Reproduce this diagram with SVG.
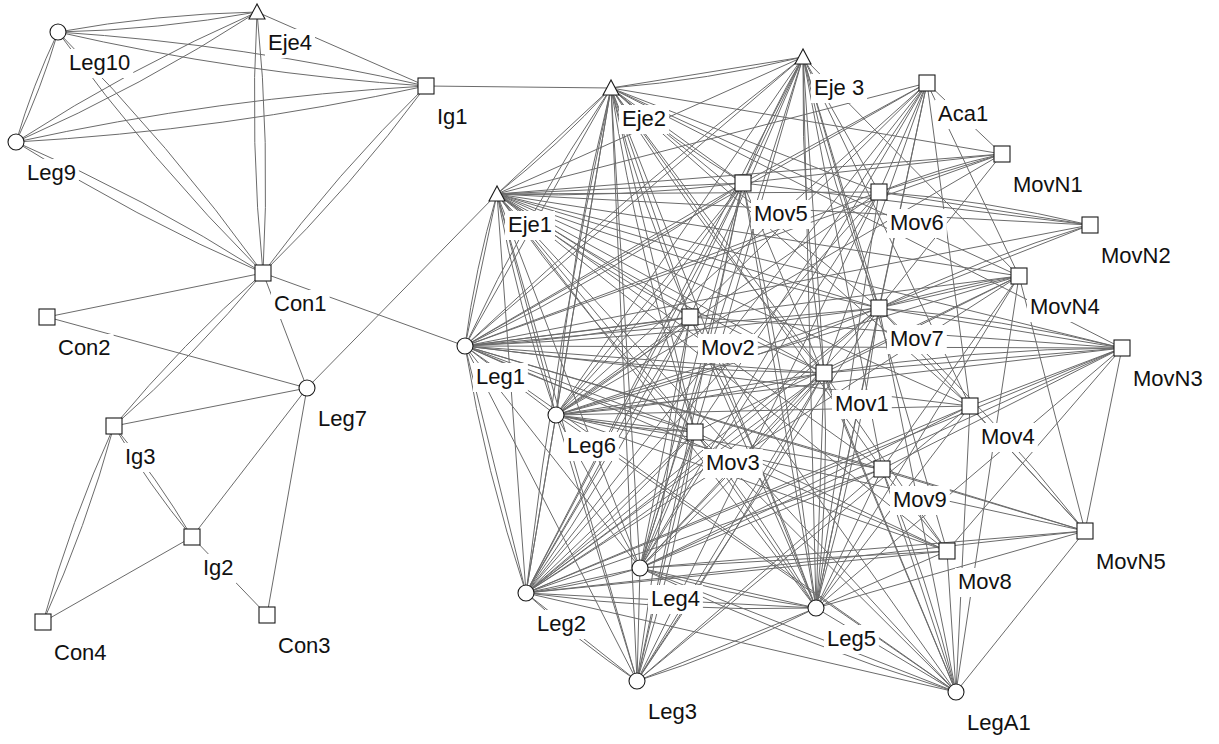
<svg xmlns="http://www.w3.org/2000/svg" width="1219" height="744" viewBox="0 0 1219 744">
<style>
.e{fill:none;stroke:#6b6b6b;stroke-width:1}
.n{fill:#fff;stroke:#1a1a1a;stroke-width:1.1}
.lb{fill:#fff}
text{font-family:"Liberation Sans",Arial,Helvetica,sans-serif;font-size:22px;fill:#111}
</style>
<rect width="1219" height="744" fill="#fff"/>
<g id="edges" class="e">
<path d="M58 32Q158.3 30 257 12"/><path d="M58 32Q156.7 14 257 12"/>
<path d="M58 32Q239.8 73.7 426 86"/><path d="M58 32Q244.2 44.3 426 86"/>
<path d="M58 32Q32.6 85.3 16 142"/><path d="M58 32Q41.4 88.7 16 142"/>
<path d="M58 32Q150.9 160.7 263 273"/><path d="M58 32Q170.1 144.3 263 273"/>
<path d="M16 142Q141.7 86.6 257 12"/><path d="M16 142Q131.3 67.4 257 12"/>
<path d="M16 142Q223.2 130.4 426 86"/><path d="M16 142Q218.8 97.6 426 86"/>
<path d="M16 142Q134.3 217.4 263 273"/><path d="M16 142Q144.7 197.6 263 273"/>
<path d="M257 12Q249.6 142.7 263 273"/><path d="M257 12Q270.4 142.3 263 273"/>
<path d="M426 86Q337 173 263 273"/><path d="M426 86Q352 186 263 273"/>
<path d="M263 273Q182.4 343.5 114 426"/><path d="M263 273Q194.6 355.5 114 426"/>
<path d="M114 426Q148.6 484.6 192 537"/><path d="M114 426Q157.4 478.4 192 537"/>
<path d="M114 426Q70.7 521.2 43 622"/><path d="M114 426Q86.3 526.8 43 622"/>
<path d="M257 12L426 86"/><path d="M426 86L611 88"/><path d="M263 273L47 317"/><path d="M263 273L465 346"/>
<path d="M263 273L307 388"/><path d="M47 317L307 388"/><path d="M307 388L114 426"/><path d="M307 388L192 537"/>
<path d="M307 388L267 615"/><path d="M307 388L497 194"/><path d="M192 537L43 622"/><path d="M192 537L267 615"/>
<path d="M497 194L611 88"/><path d="M497 194L803 57"/><path d="M497 194L743 183"/><path d="M497 194L879 192"/>
<path d="M497 194L1002 154"/><path d="M497 194L1090 225"/><path d="M497 194L879 308"/><path d="M497 194L690 317"/>
<path d="M497 194L824 373"/><path d="M497 194L970 406"/><path d="M497 194L695 432"/><path d="M497 194L882 469"/>
<path d="M497 194L1019 276"/><path d="M497 194L465 346"/><path d="M497 194L556 415"/><path d="M497 194L526 593"/>
<path d="M497 194L640 568"/><path d="M497 194L637 681"/><path d="M497 194L816 608"/><path d="M497 194L947 551"/>
<path d="M497 194L927 83"/><path d="M497 194L1122 348"/><path d="M497 194L956 692"/>
<path d="M611 88L803 57"/><path d="M611 88L743 183"/><path d="M611 88L879 192"/><path d="M611 88L690 317"/>
<path d="M611 88L824 373"/><path d="M611 88L879 308"/><path d="M611 88L695 432"/><path d="M611 88L970 406"/>
<path d="M611 88L882 469"/><path d="M611 88L465 346"/><path d="M611 88L556 415"/><path d="M611 88L526 593"/>
<path d="M611 88L640 568"/><path d="M611 88L637 681"/><path d="M611 88L816 608"/><path d="M611 88L1002 154"/>
<path d="M611 88L1019 276"/><path d="M611 88L1122 348"/>
<path d="M803 57L743 183"/><path d="M803 57L879 192"/><path d="M803 57L690 317"/><path d="M803 57L879 308"/>
<path d="M803 57L824 373"/><path d="M803 57L970 406"/><path d="M803 57L695 432"/><path d="M803 57L882 469"/>
<path d="M803 57L465 346"/><path d="M803 57L556 415"/><path d="M803 57L526 593"/><path d="M803 57L640 568"/>
<path d="M803 57L816 608"/><path d="M803 57L1019 276"/><path d="M803 57L947 551"/>
<path d="M465 346L743 183"/><path d="M465 346L690 317"/><path d="M465 346L879 308"/><path d="M465 346L824 373"/>
<path d="M465 346L695 432"/><path d="M465 346L970 406"/><path d="M465 346L879 192"/><path d="M465 346L882 469"/>
<path d="M465 346L927 83"/><path d="M465 346L1122 348"/><path d="M465 346L1019 276"/><path d="M465 346L947 551"/>
<path d="M465 346L526 593"/><path d="M465 346L640 568"/><path d="M465 346L637 681"/><path d="M465 346L556 415"/>
<path d="M465 346L1085 531"/><path d="M465 346L1090 225"/><path d="M465 346L1002 154"/><path d="M465 346L956 692"/>
<path d="M556 415L743 183"/><path d="M556 415L690 317"/><path d="M556 415L879 308"/><path d="M556 415L824 373"/>
<path d="M556 415L695 432"/><path d="M556 415L970 406"/><path d="M556 415L882 469"/><path d="M556 415L879 192"/>
<path d="M556 415L1122 348"/><path d="M556 415L1019 276"/><path d="M556 415L1085 531"/><path d="M556 415L947 551"/>
<path d="M556 415L526 593"/><path d="M556 415L637 681"/><path d="M556 415L640 568"/><path d="M556 415L927 83"/>
<path d="M556 415L1002 154"/><path d="M556 415L956 692"/>
<path d="M526 593L743 183"/><path d="M526 593L690 317"/><path d="M526 593L879 308"/><path d="M526 593L824 373"/>
<path d="M526 593L695 432"/><path d="M526 593L970 406"/><path d="M526 593L882 469"/><path d="M526 593L879 192"/>
<path d="M526 593L927 83"/><path d="M526 593L1122 348"/><path d="M526 593L947 551"/><path d="M526 593L640 568"/>
<path d="M526 593L637 681"/><path d="M526 593L816 608"/><path d="M526 593L956 692"/><path d="M526 593L1019 276"/>
<path d="M526 593L1085 531"/>
<path d="M640 568L743 183"/><path d="M640 568L690 317"/><path d="M640 568L879 308"/><path d="M640 568L824 373"/>
<path d="M640 568L695 432"/><path d="M640 568L970 406"/><path d="M640 568L882 469"/><path d="M640 568L879 192"/>
<path d="M640 568L947 551"/><path d="M640 568L816 608"/><path d="M640 568L956 692"/><path d="M640 568L637 681"/>
<path d="M640 568L927 83"/><path d="M640 568L1122 348"/><path d="M640 568L1085 531"/>
<path d="M637 681L743 183"/><path d="M637 681L690 317"/><path d="M637 681L879 308"/><path d="M637 681L824 373"/>
<path d="M637 681L695 432"/><path d="M637 681L882 469"/><path d="M637 681L816 608"/><path d="M637 681L970 406"/>
<path d="M637 681L879 192"/>
<path d="M816 608L743 183"/><path d="M816 608L690 317"/><path d="M816 608L879 308"/><path d="M816 608L824 373"/>
<path d="M816 608L695 432"/><path d="M816 608L970 406"/><path d="M816 608L882 469"/><path d="M816 608L879 192"/>
<path d="M816 608L927 83"/><path d="M816 608L1122 348"/><path d="M816 608L1019 276"/><path d="M816 608L956 692"/>
<path d="M816 608L947 551"/><path d="M816 608L1085 531"/>
<path d="M956 692L947 551"/><path d="M956 692L1085 531"/><path d="M956 692L1019 276"/><path d="M956 692L882 469"/>
<path d="M956 692L824 373"/><path d="M956 692L879 308"/><path d="M956 692L695 432"/><path d="M956 692L690 317"/>
<path d="M956 692L970 406"/><path d="M956 692L743 183"/>
<path d="M1002 154L879 192"/><path d="M1002 154L743 183"/><path d="M1002 154L927 83"/><path d="M1002 154L879 308"/>
<path d="M1090 225L879 192"/><path d="M1090 225L879 308"/><path d="M1090 225L743 183"/>
<path d="M927 83L743 183"/><path d="M927 83L879 192"/><path d="M927 83L879 308"/><path d="M927 83L824 373"/>
<path d="M927 83L690 317"/><path d="M927 83L970 406"/><path d="M927 83L1019 276"/><path d="M927 83L695 432"/>
<path d="M1019 276L879 308"/><path d="M1019 276L824 373"/><path d="M1019 276L882 469"/><path d="M1019 276L1085 531"/>
<path d="M1019 276L695 432"/>
<path d="M1122 348L879 308"/><path d="M1122 348L824 373"/><path d="M1122 348L970 406"/><path d="M1122 348L882 469"/>
<path d="M1122 348L1085 531"/><path d="M1122 348L947 551"/><path d="M1122 348L690 317"/>
<path d="M1085 531L879 308"/><path d="M1085 531L882 469"/><path d="M1085 531L970 406"/>
<path d="M947 551L882 469"/><path d="M947 551L824 373"/><path d="M947 551L695 432"/>
<path d="M497 194Q558.2 145.6 611 88"/><path d="M497 194Q620.4 198.3 743 183"/><path d="M497 194Q683.4 266.3 879 308"/>
<path d="M497 194Q588.6 263.2 690 317"/><path d="M497 194Q653.3 296.6 824 373"/><path d="M497 194Q586.5 320.9 695 432"/>
<path d="M497 194Q474.9 268.7 465 346"/><path d="M497 194Q517.7 306.9 556 415"/>
<path d="M611 88Q708.2 80.2 803 57"/><path d="M611 88Q673.2 140.8 743 183"/><path d="M611 88Q641.3 205.7 690 317"/>
<path d="M611 88Q706.1 239 824 373"/><path d="M611 88Q639.2 263.4 695 432"/><path d="M611 88Q527.7 211.2 465 346"/>
<path d="M611 88Q570.4 249.3 556 415"/><path d="M611 88Q555.9 338.4 526 593"/>
<path d="M803 57Q768 117.6 743 183"/><path d="M803 57Q831 185.5 879 308"/><path d="M803 57Q800.9 215.8 824 373"/>
<path d="M803 57Q626.8 193 465 346"/>
<path d="M465 346Q610.5 275.6 743 183"/><path d="M465 346Q578.7 340.5 690 317"/><path d="M465 346Q673 337.4 879 308"/>
<path d="M465 346Q643.7 370.3 824 373"/><path d="M465 346Q576.6 398.2 695 432"/><path d="M465 346Q485.6 471.9 526 593"/>
<path d="M556 415Q658.8 306.5 743 183"/><path d="M556 415Q626.9 371.4 690 317"/><path d="M556 415Q721.8 374.4 879 308"/>
<path d="M556 415Q691.7 404.7 824 373"/><path d="M556 415Q624.8 429.1 695 432"/>
<path d="M526 593Q644.8 393.4 743 183"/><path d="M526 593Q619 461.6 690 317"/><path d="M526 593Q709.6 459.3 879 308"/>
<path d="M526 593Q682.7 493.4 824 373"/><path d="M526 593Q616.9 519.3 695 432"/><path d="M526 593Q584 585.1 640 568"/>
<path d="M526 593Q578 641.4 637 681"/><path d="M526 593Q670.4 612.1 816 608"/>
<path d="M640 568Q703.1 378.6 743 183"/><path d="M640 568Q739.8 477.9 824 373"/><path d="M640 568Q672.9 502.2 695 432"/>
<path d="M640 568Q726.4 595 816 608"/><path d="M640 568Q793 642.6 956 692"/>
<path d="M637 681Q739.7 532.6 824 373"/><path d="M637 681Q676 558.8 695 432"/><path d="M637 681Q729.4 651.7 816 608"/>
<path d="M816 608Q790.1 393.7 743 183"/><path d="M816 608Q763.2 458.1 690 317"/><path d="M816 608Q858 460.2 879 308"/>
<path d="M816 608Q829.4 490.8 824 373"/><path d="M816 608Q762.5 515.2 695 432"/>
<path d="M956 692Q927.9 577.5 882 469"/>
<path d="M1002 154Q939 168.1 879 192"/><path d="M1090 225Q985.8 200.1 879 192"/><path d="M1090 225Q981.2 258.1 879 308"/>
<path d="M1019 276Q947.7 286.4 879 308"/><path d="M1122 348Q1002.1 318.3 879 308"/><path d="M1122 348Q972 348.6 824 373"/>
<path d="M1085 531Q990.9 411.3 879 308"/>
</g>
<g id="Leg10"><rect class="lb" x="66" y="49" width="67.2" height="29"/><text x="69" y="70">Leg10</text><circle class="n" cx="58" cy="32" r="8"/></g>
<g id="Eje4"><rect class="lb" x="265" y="29" width="50" height="29"/><text x="268" y="50">Eje4</text><polygon class="n" points="257,4 249,19 265,19"/></g>
<g id="Ig1"><rect class="lb" x="434" y="103" width="36.6" height="29"/><text x="437" y="124">Ig1</text><rect class="n" x="418" y="78" width="16" height="16"/></g>
<g id="Leg9"><rect class="lb" x="24" y="159" width="54.9" height="29"/><text x="27" y="180">Leg9</text><circle class="n" cx="16" cy="142" r="8"/></g>
<g id="Con1"><rect class="lb" x="271" y="290" width="58.6" height="29"/><text x="274" y="311">Con1</text><rect class="n" x="255" y="265" width="16" height="16"/></g>
<g id="Con2"><rect class="lb" x="55" y="334" width="58.6" height="29"/><text x="58" y="355">Con2</text><rect class="n" x="39" y="309" width="16" height="16"/></g>
<g id="Leg7"><rect class="lb" x="315" y="405" width="54.9" height="29"/><text x="318" y="426">Leg7</text><circle class="n" cx="307" cy="388" r="8"/></g>
<g id="Ig3"><rect class="lb" x="122" y="443" width="36.6" height="29"/><text x="125" y="464">Ig3</text><rect class="n" x="106" y="418" width="16" height="16"/></g>
<g id="Ig2"><rect class="lb" x="200" y="554" width="36.6" height="29"/><text x="203" y="575">Ig2</text><rect class="n" x="184" y="529" width="16" height="16"/></g>
<g id="Con4"><rect class="lb" x="51" y="639" width="58.6" height="29"/><text x="54" y="660">Con4</text><rect class="n" x="35" y="614" width="16" height="16"/></g>
<g id="Con3"><rect class="lb" x="275" y="632" width="58.6" height="29"/><text x="278" y="653">Con3</text><rect class="n" x="259" y="607" width="16" height="16"/></g>
<g id="Eje2"><rect class="lb" x="619" y="105" width="50" height="29"/><text x="622" y="126">Eje2</text><polygon class="n" points="611,80 603,95 619,95"/></g>
<g id="Eje3"><rect class="lb" x="811" y="74" width="56.1" height="29"/><text x="814" y="95">Eje 3</text><polygon class="n" points="803,49 795,64 811,64"/></g>
<g id="Aca1"><rect class="lb" x="935" y="100" width="56.1" height="29"/><text x="938" y="121">Aca1</text><rect class="n" x="919" y="75" width="16" height="16"/></g>
<g id="MovN1"><rect class="lb" x="1010" y="171" width="75.7" height="29"/><text x="1013" y="192">MovN1</text><rect class="n" x="994" y="146" width="16" height="16"/></g>
<g id="Eje1"><rect class="lb" x="505" y="211" width="50" height="29"/><text x="508" y="232">Eje1</text><polygon class="n" points="497,186 489,201 505,201"/></g>
<g id="Mov5"><rect class="lb" x="751" y="200" width="59.8" height="29"/><text x="754" y="221">Mov5</text><rect class="n" x="735" y="175" width="16" height="16"/></g>
<g id="Mov6"><rect class="lb" x="887" y="209" width="59.8" height="29"/><text x="890" y="230">Mov6</text><rect class="n" x="871" y="184" width="16" height="16"/></g>
<g id="MovN2"><rect class="lb" x="1098" y="242" width="75.7" height="29"/><text x="1101" y="263">MovN2</text><rect class="n" x="1082" y="217" width="16" height="16"/></g>
<g id="MovN4"><rect class="lb" x="1027" y="293" width="75.7" height="29"/><text x="1030" y="314">MovN4</text><rect class="n" x="1011" y="268" width="16" height="16"/></g>
<g id="Mov7"><rect class="lb" x="887" y="325" width="59.8" height="29"/><text x="890" y="346">Mov7</text><rect class="n" x="871" y="300" width="16" height="16"/></g>
<g id="Mov2"><rect class="lb" x="698" y="334" width="59.8" height="29"/><text x="701" y="355">Mov2</text><rect class="n" x="682" y="309" width="16" height="16"/></g>
<g id="Leg1"><rect class="lb" x="473" y="363" width="54.9" height="29"/><text x="476" y="384">Leg1</text><circle class="n" cx="465" cy="346" r="8"/></g>
<g id="MovN3"><rect class="lb" x="1130" y="365" width="75.7" height="29"/><text x="1133" y="386">MovN3</text><rect class="n" x="1114" y="340" width="16" height="16"/></g>
<g id="Mov1"><rect class="lb" x="832" y="390" width="59.8" height="29"/><text x="835" y="411">Mov1</text><rect class="n" x="816" y="365" width="16" height="16"/></g>
<g id="Mov4"><rect class="lb" x="978" y="423" width="59.8" height="29"/><text x="981" y="444">Mov4</text><rect class="n" x="962" y="398" width="16" height="16"/></g>
<g id="Leg6"><rect class="lb" x="564" y="432" width="54.9" height="29"/><text x="567" y="453">Leg6</text><circle class="n" cx="556" cy="415" r="8"/></g>
<g id="Mov3"><rect class="lb" x="703" y="449" width="59.8" height="29"/><text x="706" y="470">Mov3</text><rect class="n" x="687" y="424" width="16" height="16"/></g>
<g id="Mov9"><rect class="lb" x="890" y="486" width="59.8" height="29"/><text x="893" y="507">Mov9</text><rect class="n" x="874" y="461" width="16" height="16"/></g>
<g id="MovN5"><rect class="lb" x="1093" y="548" width="75.7" height="29"/><text x="1096" y="569">MovN5</text><rect class="n" x="1077" y="523" width="16" height="16"/></g>
<g id="Mov8"><rect class="lb" x="955" y="568" width="59.8" height="29"/><text x="958" y="589">Mov8</text><rect class="n" x="939" y="543" width="16" height="16"/></g>
<g id="Leg4"><rect class="lb" x="648" y="585" width="54.9" height="29"/><text x="651" y="606">Leg4</text><circle class="n" cx="640" cy="568" r="8"/></g>
<g id="Leg2"><rect class="lb" x="534" y="610" width="54.9" height="29"/><text x="537" y="631">Leg2</text><circle class="n" cx="526" cy="593" r="8"/></g>
<g id="Leg5"><rect class="lb" x="824" y="625" width="54.9" height="29"/><text x="827" y="646">Leg5</text><circle class="n" cx="816" cy="608" r="8"/></g>
<g id="Leg3"><rect class="lb" x="645" y="698" width="54.9" height="29"/><text x="648" y="719">Leg3</text><circle class="n" cx="637" cy="681" r="8"/></g>
<g id="LegA1"><rect class="lb" x="964" y="709" width="69.6" height="29"/><text x="967" y="730">LegA1</text><circle class="n" cx="956" cy="692" r="8"/></g>
</svg>
